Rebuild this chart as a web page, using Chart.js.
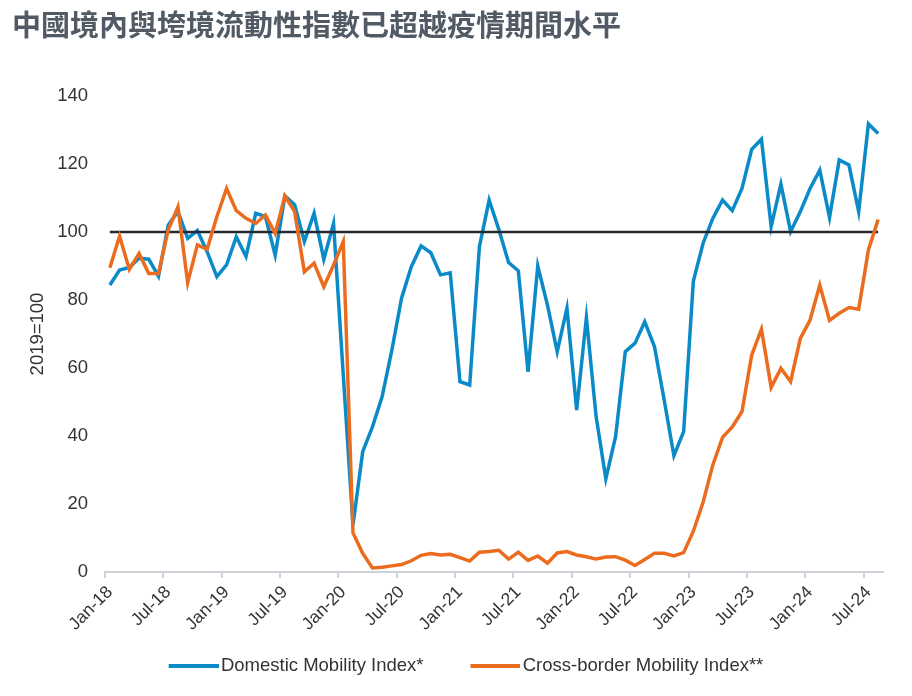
<!DOCTYPE html>
<html>
<head>
<meta charset="utf-8">
<script src="https://cdn.jsdelivr.net/npm/chart.js@4"></script>
<style>
  html, body { margin: 0; padding: 0; background: #ffffff; }
  canvas { display: block; }
</style>
</head>
<body>
<canvas id="mobilityChart" width="912" height="696"></canvas>
<script>
// Monthly, Jan-18 to Aug-24
const months = ['Jan', 'Feb', 'Mar', 'Apr', 'May', 'Jun', 'Jul', 'Aug', 'Sep', 'Oct', 'Nov', 'Dec'];
const years = ['18', '19', '20', '21', '22', '23', '24'];
const monthCount = 80;

const labels = [];
for (let i = 0; i < monthCount; i++) {
    labels.push(months[i % 12] + '-' + years[Math.floor(i / 12)]);
}

const domestic = [
    84.4, 88.8, 89.6, 92.3, 92.0, 87.0, 102.0, 106.0, 98.1, 100.4, 94.2, 86.9,
    90.3, 98.6, 92.8, 105.5, 104.5, 93.2, 110.6, 108.0, 97.2, 105.5, 92.0, 102.5,
    58.0, 13.8, 35.4, 42.7, 51.6, 65.3, 80.6, 89.8, 95.9, 93.9, 87.4, 88.0,
    56.0, 55.0, 95.7, 109.4, 100.7, 91.0, 88.6, 58.9, 90.0, 78.5, 64.8, 77.6,
    47.6, 74.8, 45.7, 27.4, 39.8, 64.8, 67.3, 73.6, 66.3, 50.6, 34.2, 41.3,
    85.6, 96.7, 104.0, 109.4, 106.3, 112.8, 124.3, 127.3, 101.6, 114.1, 100.1, 106.0,
    112.8, 118.2, 104.3, 121.2, 119.7, 106.0, 131.8, 129.0
];

const crossBorder = [
    89.5, 98.8, 89.0, 93.7, 87.8, 87.8, 100.6, 107.4, 85.1, 96.2, 94.9, 104.5,
    112.8, 106.3, 104.0, 102.5, 105.0, 99.6, 110.6, 106.0, 88.3, 90.8, 83.9, 90.3,
    97.2, 11.5, 5.5, 1.2, 1.4, 1.8, 2.2, 3.3, 4.9, 5.4, 5.0, 5.2,
    4.2, 3.2, 5.8, 6.0, 6.4, 3.8, 5.8, 3.4, 4.7, 2.6, 5.6, 6.0,
    5.0, 4.5, 3.8, 4.4, 4.5, 3.5, 1.9, 3.7, 5.5, 5.5, 4.7, 5.7,
    12.0, 20.5, 31.5, 39.6, 42.7, 47.2, 63.8, 71.4, 54.3, 59.9, 56.0, 68.7,
    74.1, 84.4, 74.0, 76.1, 77.8, 77.3, 94.7, 103.7
];

// 2019 average = 100
const baseline = labels.map(() => 100);

const yTicks = [0, 20, 40, 60, 80, 100, 120, 140];

const blue = '#0a8bc8';
const orange = '#ec6c1f';
const textColor = '#333333';
const axisGrey = '#cdd2d9';
const fontFamily = '"Liberation Sans", Arial, sans-serif';

// legend swatch: transparent lead-in then a 50px line, so items sit further apart
// and the text starts right after the line
function legendSwatch(color) {
    const c = document.createElement('canvas');
    c.width = 94;
    c.height = 4;
    const g = c.getContext('2d');
    g.fillStyle = color;
    g.fillRect(44, 0, 50, 4);
    return c;
}
const swatches = [legendSwatch(blue), legendSwatch(orange)];

const ctx = document.getElementById('mobilityChart').getContext('2d');
new Chart(ctx, {
    type: 'line',
    data: {
        labels: labels,
        datasets: [
            {
                label: 'Domestic Mobility Index*',
                data: domestic,
                borderColor: blue,
                backgroundColor: blue,
                borderWidth: 3.5,
                order: 2
            },
            {
                label: 'Cross-border Mobility Index**',
                data: crossBorder,
                borderColor: orange,
                backgroundColor: orange,
                borderWidth: 3.5,
                order: 0
            },
            {
                label: 'baseline',
                data: baseline,
                borderColor: '#262a30',
                backgroundColor: '#262a30',
                borderWidth: 2.5,
                order: 1
            }
        ]
    },
    options: {
        responsive: false,
        animation: false,
        layout: { padding: { left: 12, right: 29, top: 0, bottom: 11 } },
        elements: {
            point: { radius: 0, hoverRadius: 0 },
            line: { tension: 0, borderJoinStyle: 'miter', borderCapStyle: 'butt' }
        },
        plugins: {
            tooltip: { enabled: false },
            title: {
                display: true,
                text: '中國境內與垮境流動性指數已超越疫情期間水平',
                align: 'start',
                color: '#515a65',
                font: { family: '"Noto Sans CJK TC", "Noto Sans CJK SC", sans-serif', size: 29, weight: 'bold', lineHeight: 1.2 },
                padding: { top: 8, bottom: 53.2 }
            },
            legend: {
                position: 'bottom',
                labels: {
                    usePointStyle: true,
                    pointStyleWidth: 80,
                    padding: 10,
                    color: textColor,
                    font: { family: fontFamily, size: 18.5 },
                    generateLabels: function(chart) {
                        const items = Chart.defaults.plugins.legend.labels.generateLabels(chart);
                        return items
                            .filter(item => item.datasetIndex < 2)
                            .sort((a, b) => a.datasetIndex - b.datasetIndex)
                            .map(item => Object.assign(item, { pointStyle: swatches[item.datasetIndex] }));
                    }
                }
            }
        },
        scales: {
            x: {
                type: 'category',
                offset: true,
                grid: {
                    offset: true,
                    drawOnChartArea: false,
                    drawTicks: true,
                    tickLength: 6,
                    lineWidth: 2,
                    color: c => (c.index % 6 === 0 ? axisGrey : 'rgba(0,0,0,0)')
                },
                border: { display: true, color: axisGrey, width: 2 },
                ticks: {
                    autoSkip: false,
                    minRotation: 45,
                    maxRotation: 45,
                    padding: 4,
                    color: textColor,
                    font: { family: fontFamily, size: 17.5 },
                    callback: function(value, index) {
                        return index % 6 === 0 ? this.getLabelForValue(value) : '';
                    }
                },
                afterFit: function(scale) {
                    const chart = scale.chart;
                    scale.height = chart.height - 572 - chart.legend.height - 11;
                }
            },
            y: {
                min: 0,
                max: 140,
                grid: { display: false, drawTicks: false },
                border: { display: false },
                afterBuildTicks: function(scale) {
                    scale.ticks = yTicks.map(v => ({ value: v }));
                },
                ticks: {
                    padding: 17,
                    color: textColor,
                    font: { family: fontFamily, size: 18.5 }
                },
                title: {
                    display: true,
                    text: '2019=100',
                    color: textColor,
                    font: { family: fontFamily, size: 18.5 },
                    padding: { top: 15, bottom: 0 }
                },
                afterFit: function(scale) {
                    scale.width = 93;
                }
            }
        }
    }
});
</script>
</body>
</html>
